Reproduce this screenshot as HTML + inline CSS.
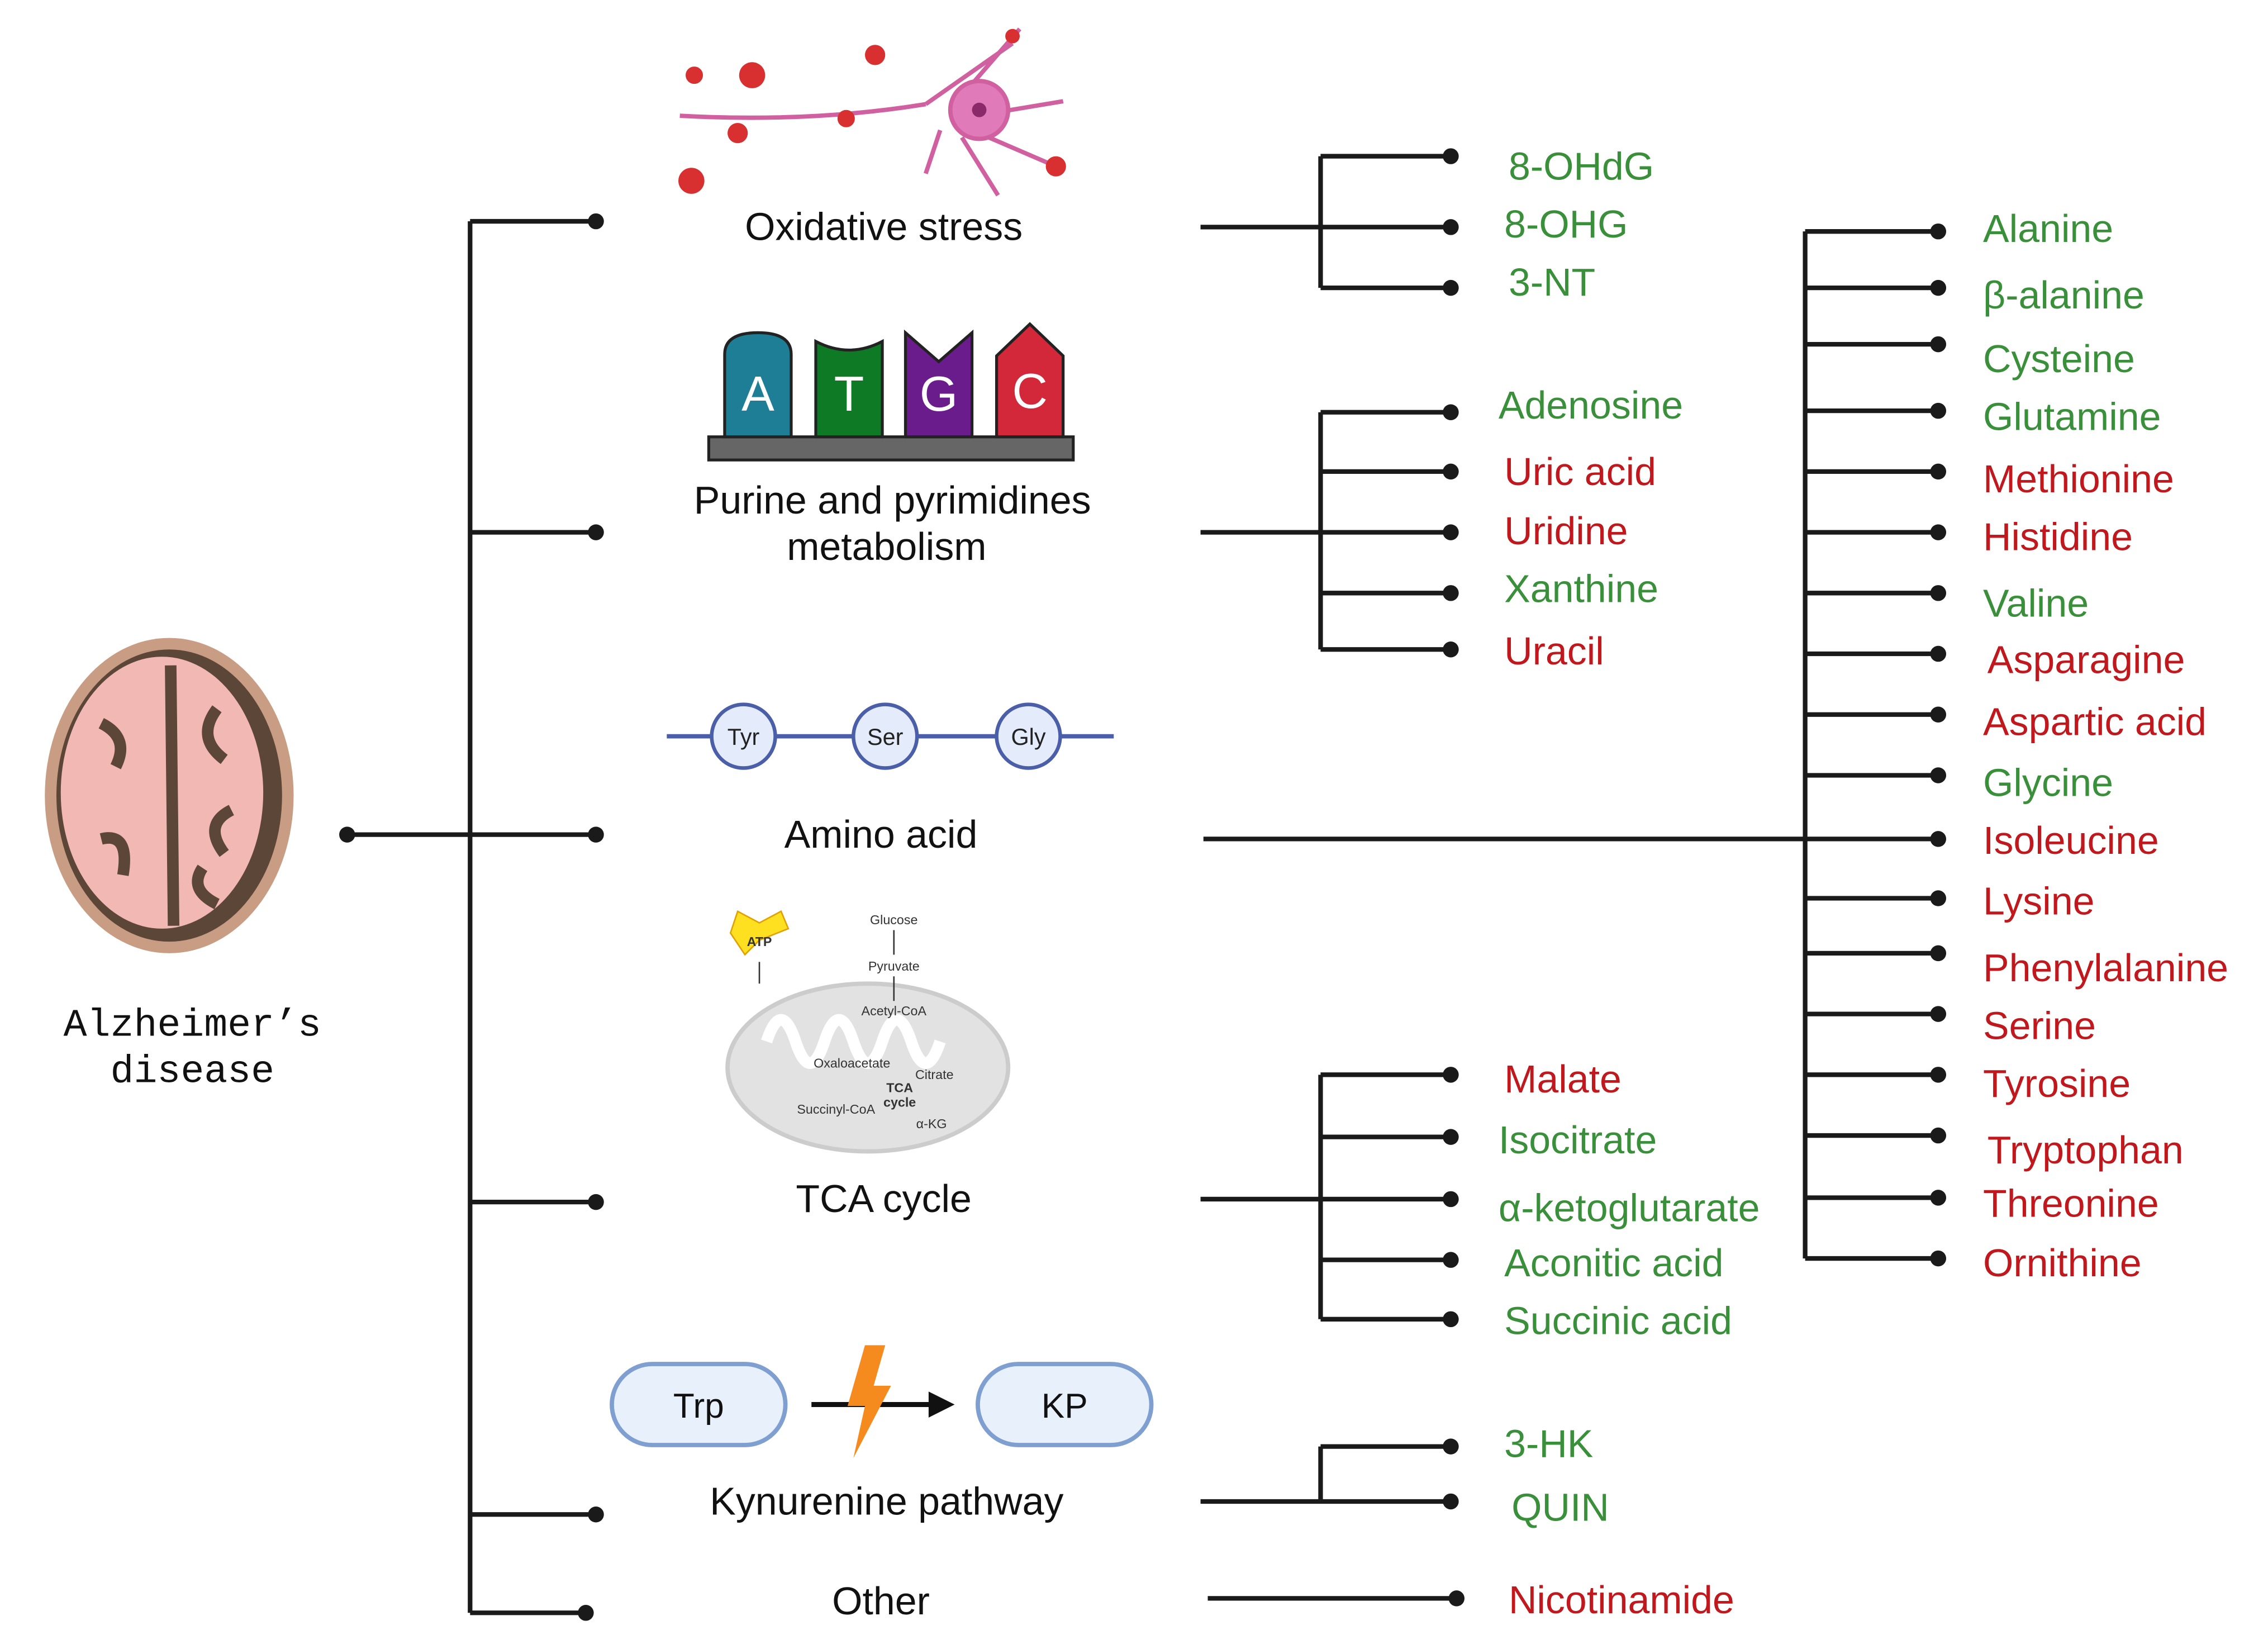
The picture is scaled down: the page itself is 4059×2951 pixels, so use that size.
<!DOCTYPE html>
<html><head><meta charset="utf-8"><style>html,body{margin:0;padding:0;background:#fff}svg{display:block}</style></head>
<body>
<svg xmlns="http://www.w3.org/2000/svg" width="4059" height="2951" viewBox="0 0 1568 1140" preserveAspectRatio="none">
<rect width="1568" height="1140" fill="#fff"/>
<g stroke="#1a1a1a" stroke-width="3.2" fill="none">
<path d="M325 153V1115M325 153H412M325 368H412M240 577H412M325 831H412M325 1047H412M325 1115H405"/>
<path d="M830 157H913M913 108V199M913 108H1003M913 157H1003M913 199H1003"/>
<path d="M830 368H913M913 285V449M913 285H1003M913 326H1003M913 368H1003M913 410H1003M913 449H1003"/>
<path d="M832 580H1340M1248 160V870"/>
<path d="M1248 160H1340M1248 199H1340M1248 238H1340M1248 284H1340M1248 326H1340M1248 368H1340M1248 410H1340M1248 452H1340M1248 494H1340M1248 536H1340M1248 621H1340M1248 659H1340M1248 701H1340M1248 743H1340M1248 785H1340M1248 828H1340M1248 870H1340"/>
<path d="M830 829H913M913 743V912M913 743H1003M913 786H1003M913 829H1003M913 871H1003M913 912H1003"/>
<path d="M830 1038H1003M913 1000V1038M913 1000H1003M835 1105H1007"/>
</g>
<g fill="#1a1a1a">
<circle cx="412" cy="153" r="5.5"/><circle cx="412" cy="368" r="5.5"/><circle cx="412" cy="577" r="5.5"/><circle cx="240" cy="577" r="5.5"/><circle cx="412" cy="831" r="5.5"/><circle cx="412" cy="1047" r="5.5"/><circle cx="405" cy="1115" r="5.5"/>
<circle cx="1003" cy="108" r="5.5"/><circle cx="1003" cy="157" r="5.5"/><circle cx="1003" cy="199" r="5.5"/>
<circle cx="1003" cy="285" r="5.5"/><circle cx="1003" cy="326" r="5.5"/><circle cx="1003" cy="368" r="5.5"/><circle cx="1003" cy="410" r="5.5"/><circle cx="1003" cy="449" r="5.5"/>
<circle cx="1003" cy="743" r="5.5"/><circle cx="1003" cy="786" r="5.5"/><circle cx="1003" cy="829" r="5.5"/><circle cx="1003" cy="871" r="5.5"/><circle cx="1003" cy="912" r="5.5"/>
<circle cx="1003" cy="1000" r="5.5"/><circle cx="1003" cy="1038" r="5.5"/><circle cx="1007" cy="1105" r="5.5"/>
<circle cx="1340" cy="160" r="5.5"/><circle cx="1340" cy="199" r="5.5"/><circle cx="1340" cy="238" r="5.5"/><circle cx="1340" cy="284" r="5.5"/><circle cx="1340" cy="326" r="5.5"/><circle cx="1340" cy="368" r="5.5"/><circle cx="1340" cy="410" r="5.5"/><circle cx="1340" cy="452" r="5.5"/><circle cx="1340" cy="494" r="5.5"/><circle cx="1340" cy="536" r="5.5"/><circle cx="1340" cy="580" r="5.5"/><circle cx="1340" cy="621" r="5.5"/><circle cx="1340" cy="659" r="5.5"/><circle cx="1340" cy="701" r="5.5"/><circle cx="1340" cy="743" r="5.5"/><circle cx="1340" cy="785" r="5.5"/><circle cx="1340" cy="828" r="5.5"/><circle cx="1340" cy="870" r="5.5"/>
</g>
<!-- brain -->
<ellipse cx="117" cy="550" rx="86" ry="109" fill="#c99c84"/>
<ellipse cx="117" cy="550" rx="78" ry="101" fill="#5c4638"/>
<ellipse cx="112" cy="548" rx="70" ry="94" fill="#f2b8b4"/>
<path d="M118 460 L120 640 M70 500 q20 10 10 30 M150 490 q-15 20 5 35 M160 560 q-20 10 -5 30 M70 580 q20 -5 15 25 M140 600 q-10 15 10 25" stroke="#5c4638" stroke-width="8" fill="none"/>
<g font-family="Liberation Mono, monospace" font-size="27" text-anchor="middle" fill="#111"><text x="133" y="716">Alzheimer’s</text><text x="133" y="748">disease</text></g>
<!-- neuron -->
<g fill="#e07ab8" stroke="#d0609f" stroke-width="3">
<path d="M470 80 Q560 85 640 72" fill="none"/>
<path d="M640 72 L700 30 M660 72 L705 20 M675 80 L735 70 M672 90 L730 115 M665 95 L690 135 M650 90 L640 120" fill="none"/>
<circle cx="677" cy="76" r="20"/>
</g>
<circle cx="677" cy="76" r="5" fill="#8a2a6a"/>
<g fill="#d83030"><circle cx="478" cy="125" r="9"/><circle cx="520" cy="52" r="9"/><circle cx="510" cy="92" r="7"/><circle cx="605" cy="38" r="7"/><circle cx="585" cy="82" r="6"/><circle cx="730" cy="115" r="7"/><circle cx="700" cy="25" r="5"/><circle cx="480" cy="52" r="6"/></g>
<!-- ATGC -->
<rect x="490" y="302" width="252" height="16" fill="#666" stroke="#222" stroke-width="2"/>
<path d="M501 302V245Q501 230 524 230Q547 230 547 245V302Z" fill="#1d7e96" stroke="#222" stroke-width="2"/>
<path d="M564 302V236Q587 248 610 236V302Z" fill="#0f7a26" stroke="#222" stroke-width="2"/>
<path d="M626 302V230L649 250L672 230V302Z" fill="#6a1c8c" stroke="#222" stroke-width="2"/>
<path d="M689 302V246L712 224L735 246V302Z" fill="#d2283a" stroke="#222" stroke-width="2"/>
<g font-family="Liberation Sans, sans-serif" font-size="34" fill="#fff" text-anchor="middle"><text x="524" y="284">A</text><text x="587" y="284">T</text><text x="649" y="284">G</text><text x="712" y="282">C</text></g>
<!-- amino chain -->
<path d="M461 509H770" stroke="#4a5fa8" stroke-width="3"/>
<g fill="#e4ebfb" stroke="#4a5fa8" stroke-width="2.5"><circle cx="514" cy="509" r="22"/><circle cx="612" cy="509" r="22"/><circle cx="711" cy="509" r="22"/></g>
<g font-family="Liberation Sans, sans-serif" font-size="16" text-anchor="middle" fill="#222"><text x="514" y="515">Tyr</text><text x="612" y="515">Ser</text><text x="711" y="515">Gly</text></g>
<!-- mito -->
<ellipse cx="600" cy="738" rx="97" ry="58" fill="#e2e2e2" stroke="#ccc" stroke-width="3"/>
<path d="M530 720 q10 -30 20 0 q10 30 20 0 q10 -30 20 0 q10 30 20 0 q10 -30 20 0 q10 30 20 0" stroke="#fff" stroke-width="8" fill="none"/>
<path d="M525 650 L545 642 L540 630 L525 638 L510 630 L505 645 L515 660 Z" fill="#ffe020" stroke="#e0a000"/>
<g font-family="Liberation Sans, sans-serif" font-size="9" fill="#333" text-anchor="middle"><text x="525" y="654" font-weight="bold">ATP</text><text x="618" y="639">Glucose</text><text x="618" y="671">Pyruvate</text><text x="618" y="702">Acetyl-CoA</text><text x="589" y="738">Oxaloacetate</text><text x="646" y="746">Citrate</text><text x="622" y="755" font-weight="bold">TCA</text><text x="622" y="765" font-weight="bold">cycle</text><text x="578" y="770">Succinyl-CoA</text><text x="644" y="780">α-KG</text></g>
<path d="M618 643V660M618 675V692M525 665V680" stroke="#333" stroke-width="1"/>
<!-- Trp KP -->
<rect x="423" y="943" width="120" height="56" rx="28" fill="#e8f0fc" stroke="#7f9fd0" stroke-width="3"/>
<rect x="676" y="943" width="120" height="56" rx="28" fill="#e8f0fc" stroke="#7f9fd0" stroke-width="3"/>
<path d="M561 971H645" stroke="#111" stroke-width="3.5"/><path d="M642 962L660 971L642 980Z" fill="#111"/>
<path d="M598 930L612 930L604 958L616 958L590 1008L598 972L586 972Z" fill="#f58a1f"/>
<g font-family="Liberation Sans, sans-serif" font-size="24" text-anchor="middle" fill="#111"><text x="483" y="980">Trp</text><text x="736" y="980">KP</text></g>
<!-- category labels -->
<g font-family="Liberation Sans, sans-serif" font-size="27" text-anchor="middle" fill="#111">
<text x="611" y="166">Oxidative stress</text><text x="617" y="355">Purine and pyrimidines</text><text x="613" y="387">metabolism</text><text x="609" y="586">Amino acid</text><text x="611" y="838">TCA cycle</text><text x="613" y="1047">Kynurenine pathway</text><text x="609" y="1116">Other</text>
</g>
<g font-family="Liberation Sans, sans-serif" font-size="27" dominant-baseline="central">
<g fill="#3a8f3a"><text x="1043" y="115">8-OHdG</text><text x="1040" y="155">8-OHG</text><text x="1043" y="195">3-NT</text><text x="1036" y="280">Adenosine</text><text x="1040" y="407">Xanthine</text><text x="1036" y="788">Isocitrate</text><text x="1036" y="835">α-ketoglutarate</text><text x="1040" y="873">Aconitic acid</text><text x="1040" y="913">Succinic acid</text><text x="1040" y="998">3-HK</text><text x="1045" y="1042">QUIN</text>
<text x="1371" y="158">Alanine</text><text x="1371" y="204">β-alanine</text><text x="1371" y="248">Cysteine</text><text x="1371" y="288">Glutamine</text><text x="1371" y="417">Valine</text><text x="1371" y="541">Glycine</text></g>
<g fill="#c0181c"><text x="1040" y="326">Uric acid</text><text x="1040" y="367">Uridine</text><text x="1040" y="450">Uracil</text><text x="1040" y="746">Malate</text><text x="1043" y="1106">Nicotinamide</text>
<text x="1371" y="331">Methionine</text><text x="1371" y="371">Histidine</text><text x="1374" y="456">Asparagine</text><text x="1371" y="499">Aspartic acid</text><text x="1371" y="581">Isoleucine</text><text x="1371" y="623">Lysine</text><text x="1371" y="669">Phenylalanine</text><text x="1371" y="709">Serine</text><text x="1371" y="749">Tyrosine</text><text x="1374" y="795">Tryptophan</text><text x="1371" y="832">Threonine</text><text x="1371" y="873">Ornithine</text></g>
</g>
</svg>
</body></html>
